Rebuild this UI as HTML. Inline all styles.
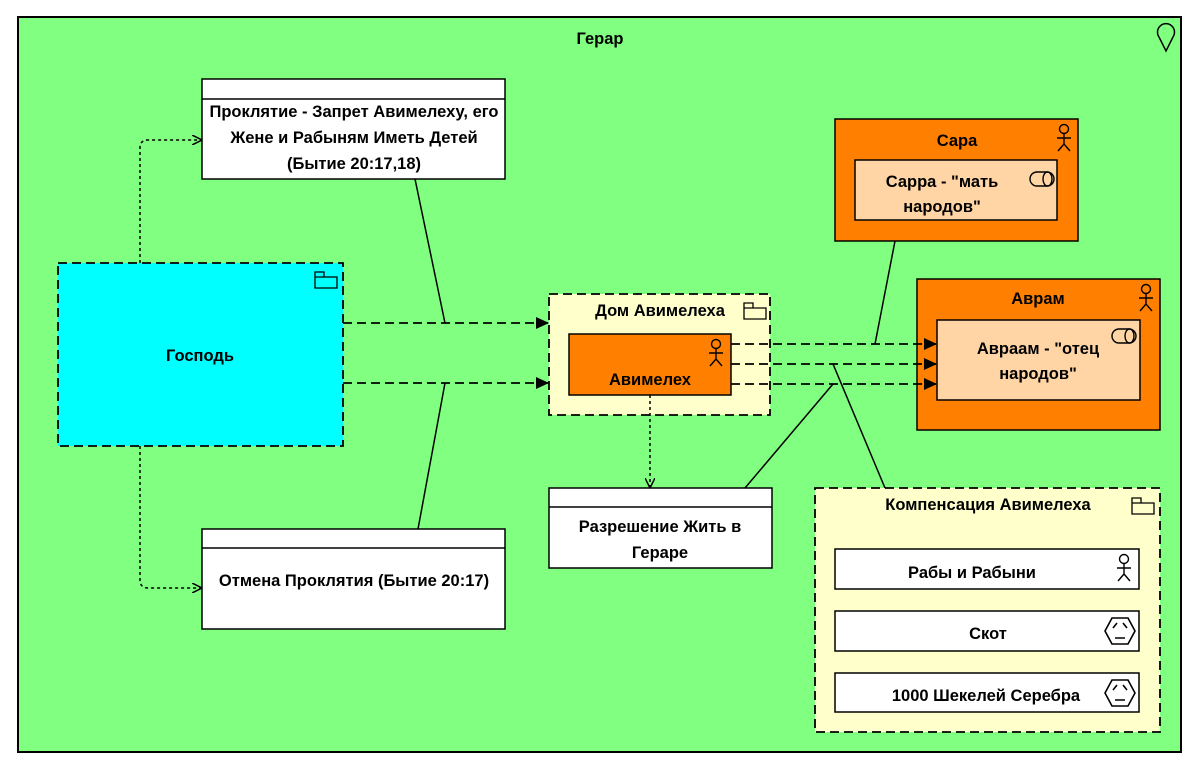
<!DOCTYPE html>
<html><head><meta charset="utf-8"><style>
html,body{margin:0;padding:0;background:#fff;width:1200px;height:772px;overflow:hidden}
text{font-family:"Liberation Sans",sans-serif;font-weight:bold;font-size:16.5px;fill:#000;text-anchor:middle}
</style></head><body>
<svg width="1200" height="772" viewBox="0 0 1200 772" xmlns="http://www.w3.org/2000/svg">
<defs>
<marker id="fa" markerWidth="13" markerHeight="12" refX="13" refY="6" orient="auto" markerUnits="userSpaceOnUse"><path d="M0,0 L13,6 L0,12 z" fill="#000"/></marker>
<marker id="oa" markerWidth="10" markerHeight="10" refX="10" refY="5" orient="auto" markerUnits="userSpaceOnUse"><path d="M0,0 L10,5 L0,10" fill="none" stroke="#000" stroke-width="1.5"/></marker>
<g id="actor"><circle cx="0" cy="-8" r="4.5" fill="none" stroke="#000" stroke-width="1.4"/><path d="M0,-3.5 V7 M-7,1 H7 M0,7 L-6,14 M0,7 L6,14" stroke="#000" stroke-width="1.4" fill="none"/></g>
<g id="folder"><path d="M0,0 H9 V5 H22 V16 H0 Z M0,5 H9" fill="none" stroke="#000" stroke-width="1.3"/></g>
<g id="cyl"><rect x="0" y="0" width="24" height="14" rx="7" fill="none" stroke="#000" stroke-width="1.4"/><ellipse cx="17.5" cy="7" rx="4.5" ry="7" fill="none" stroke="#000" stroke-width="1.4"/></g>
<g id="hex"><path d="M-15,0 L-8,-13 H8 L15,0 L8,13 H-8 Z" fill="none" stroke="#000" stroke-width="1.6"/><path d="M-7,-3 L-3,-8 M7,-3 L3,-8 M-5,7 H5" stroke="#000" stroke-width="1.6"/></g>
</defs>
<rect x="18" y="17" width="1163" height="735" fill="#80ff80" stroke="#000" stroke-width="2"/>
<text x="600" y="44">Герар</text>
<path d="M1159,37 A8.5,8.5 0 1 1 1173,37 L1166,51 Z" fill="none" stroke="#000" stroke-width="1.5"/>

<!-- box 1 -->
<rect x="202" y="79" width="303" height="100" fill="#fff" stroke="#000" stroke-width="1.5"/>
<line x1="202" y1="99" x2="505" y2="99" stroke="#000" stroke-width="1.5"/>
<text x="354" y="117">Проклятие - Запрет Авимелеху, его</text>
<text x="354" y="143">Жене и Рабыням Иметь Детей</text>
<text x="354" y="169">(Бытие 20:17,18)</text>

<!-- Господь -->
<rect x="58" y="263" width="285" height="183" fill="#00ffff" stroke="#000" stroke-width="1.8" stroke-dasharray="9,5"/>
<use href="#folder" x="315" y="272"/>
<text x="200" y="361">Господь</text>

<!-- Отмена -->
<rect x="202" y="529" width="303" height="100" fill="#fff" stroke="#000" stroke-width="1.5"/>
<line x1="202" y1="548" x2="505" y2="548" stroke="#000" stroke-width="1.5"/>
<text x="354" y="586">Отмена Проклятия (Бытие 20:17)</text>

<!-- Дом -->
<rect x="549" y="294" width="221" height="121" fill="#ffffcc" stroke="#000" stroke-width="1.8" stroke-dasharray="9,5"/>
<text x="660" y="316">Дом Авимелеха</text>
<use href="#folder" x="744" y="303"/>
<rect x="569" y="334" width="162" height="61" fill="#ff8000" stroke="#000" stroke-width="1.5"/>
<use href="#actor" x="716" y="352"/>
<text x="650" y="385">Авимелех</text>

<!-- Разрешение -->
<rect x="549" y="488" width="223" height="80" fill="#fff" stroke="#000" stroke-width="1.5"/>
<line x1="549" y1="507" x2="772" y2="507" stroke="#000" stroke-width="1.5"/>
<text x="660" y="532">Разрешение Жить в</text>
<text x="660" y="558">Гераре</text>

<!-- Сара -->
<rect x="835" y="119" width="243" height="122" fill="#ff8000" stroke="#000" stroke-width="1.5"/>
<text x="957" y="146">Сара</text>
<use href="#actor" x="1064" y="137"/>
<rect x="855" y="160" width="202" height="60" fill="#ffd5a5" stroke="#000" stroke-width="1.5"/>
<use href="#cyl" x="1030" y="172"/>
<text x="942" y="187">Сарра - "мать</text>
<text x="942" y="212">народов"</text>

<!-- Аврам -->
<rect x="917" y="279" width="243" height="151" fill="#ff8000" stroke="#000" stroke-width="1.5"/>
<text x="1038" y="304">Аврам</text>
<use href="#actor" x="1146" y="297"/>
<rect x="937" y="320" width="203" height="80" fill="#ffd5a5" stroke="#000" stroke-width="1.5"/>
<use href="#cyl" x="1112" y="329"/>
<text x="1038" y="354">Авраам - "отец</text>
<text x="1038" y="379">народов"</text>

<!-- Компенсация -->
<rect x="815" y="488" width="345" height="244" fill="#ffffcc" stroke="#000" stroke-width="1.8" stroke-dasharray="9,5"/>
<text x="988" y="510">Компенсация Авимелеха</text>
<use href="#folder" x="1132" y="498"/>
<rect x="835" y="549" width="304" height="40" fill="#fff" stroke="#000" stroke-width="1.5"/>
<text x="972" y="578">Рабы  и Рабыни</text>
<use href="#actor" x="1124" y="567"/>
<rect x="835" y="611" width="304" height="40" fill="#fff" stroke="#000" stroke-width="1.5"/>
<text x="988" y="639">Скот</text>
<use href="#hex" x="1120" y="631"/>
<rect x="835" y="673" width="304" height="39" fill="#fff" stroke="#000" stroke-width="1.5"/>
<text x="986" y="701">1000 Шекелей Серебра</text>
<use href="#hex" x="1120" y="693"/>

<!-- connectors -->
<path d="M140,263 V148 Q140,140 148,140 H202" fill="none" stroke="#000" stroke-width="1.5" stroke-dasharray="3,3" marker-end="url(#oa)"/>
<path d="M140,446 V580 Q140,588 148,588 H202" fill="none" stroke="#000" stroke-width="1.5" stroke-dasharray="3,3" marker-end="url(#oa)"/>
<path d="M343,323 H549" stroke="#000" stroke-width="1.8" stroke-dasharray="9,5" marker-end="url(#fa)"/>
<path d="M343,383 H549" stroke="#000" stroke-width="1.8" stroke-dasharray="9,5" marker-end="url(#fa)"/>
<path d="M415,179 L445,323 M445,383 L418,529" stroke="#000" stroke-width="1.5"/>
<path d="M731,344 H937" stroke="#000" stroke-width="1.8" stroke-dasharray="9,5" marker-end="url(#fa)"/>
<path d="M731,364 H937" stroke="#000" stroke-width="1.8" stroke-dasharray="9,5" marker-end="url(#fa)"/>
<path d="M731,384 H937" stroke="#000" stroke-width="1.8" stroke-dasharray="9,5" marker-end="url(#fa)"/>
<path d="M875,344 L895,241 M833,384 L745,488 M833,364 L885,488" stroke="#000" stroke-width="1.5"/>
<path d="M650,395 V488" stroke="#000" stroke-width="1.5" stroke-dasharray="3,3" marker-end="url(#oa)"/>
</svg>
</body></html>
